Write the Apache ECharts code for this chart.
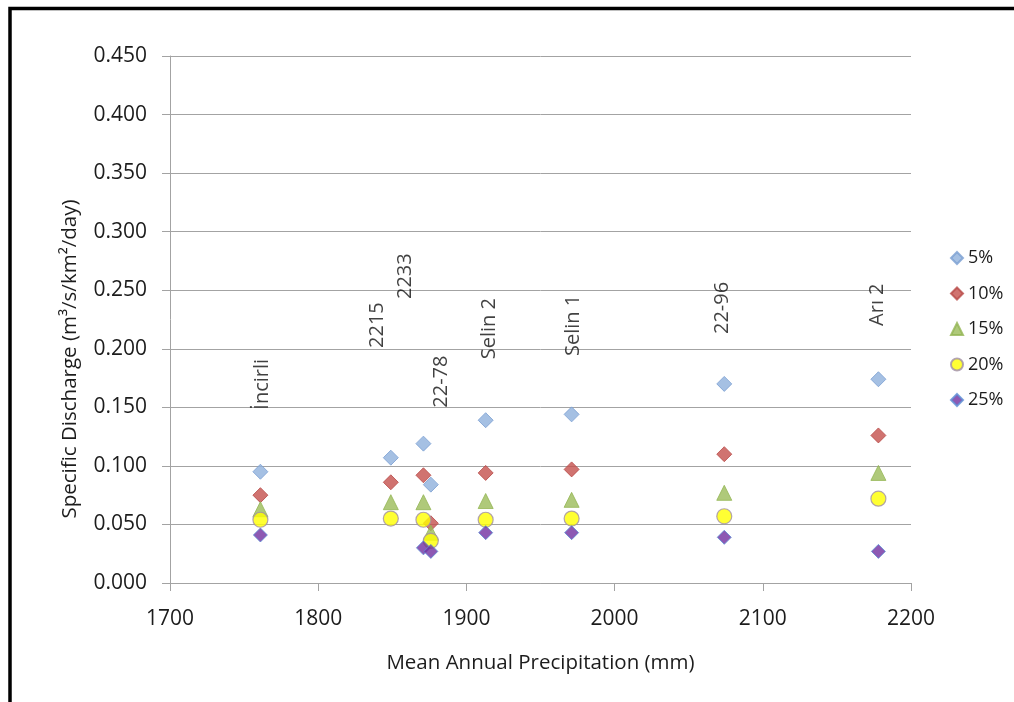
<!DOCTYPE html>
<html>
<head>
<meta charset="utf-8">
<script src="https://cdn.jsdelivr.net/npm/echarts@6/dist/echarts.min.js"></script>
<style>
  html, body { margin: 0; padding: 0; background: #fff; }
  #chart { width: 1014px; height: 702px; }
</style>
</head>
<body>
<div id="chart"></div>
<script>
// Mean annual precipitation (mm) of each gauging station
const stations = ['İncirli', '2215', '2233', '22-78', 'Selin 2', 'Selin 1', '22-96', 'Arı 2'];
const precipitation = [1761, 1849, 1871, 1876, 1913, 1971, 2074, 2178];

// Specific discharge (m³/s/km²/day) for each exceedance percentage
const q5  = [0.095, 0.107, 0.119, 0.084, 0.139, 0.144, 0.170, 0.174];
const q10 = [0.075, 0.086, 0.092, 0.051, 0.094, 0.097, 0.110, 0.126];
const q15 = [0.063, 0.069, 0.069, 0.043, 0.070, 0.071, 0.077, 0.094];
const q20 = [0.054, 0.055, 0.054, 0.036, 0.054, 0.055, 0.057, 0.072];
const q25 = [0.041, null,  0.030, 0.027, 0.043, 0.043, 0.039, 0.027];

// Anchor of each station's vertical name tag (mm, discharge)
const tagX = [1762, 1840, 1859, 1883, 1915.5, 1972, 2073, 2177];
const tagY = [0.148, 0.2007, 0.2425, 0.1497, 0.191, 0.1938, 0.2126, 0.2195];

const seriesNames = ['5%', '10%', '15%', '20%', '25%'];

const FONT = 'Open Sans';
const TEXT = '#1c1c1c';
const GRID = '#a3a3a3';

function pairs(xs, ys) {
  const out = [];
  for (let i = 0; i < xs.length; i++) {
    if (ys[i] !== null) out.push([xs[i], ys[i]]);
  }
  return out;
}

const chart = echarts.init(document.getElementById('chart'), null, { renderer: 'canvas' });

const option = {
  backgroundColor: '#ffffff',
  animation: false,
  textStyle: { fontFamily: FONT, color: TEXT },
  grid: { left: 170, right: 103, top: 56, bottom: 119, containLabel: false },
  xAxis: {
    type: 'value',
    min: 1700,
    max: 2200,
    interval: 100,
    name: 'Mean Annual Precipitation (mm)',
    nameLocation: 'middle',
    nameGap: 70,
    nameTextStyle: { fontFamily: FONT, fontSize: 20.5, color: TEXT },
    axisLine: { show: true, onZero: false, lineStyle: { color: GRID, width: 1 } },
    axisTick: { show: true, inside: false, length: 8, lineStyle: { color: GRID } },
    axisLabel: {
      margin: 26, fontFamily: FONT, fontSize: 21, color: TEXT,
      formatter: v => String(v)
    },
    splitLine: { show: false }
  },
  yAxis: {
    type: 'value',
    min: 0,
    max: 0.45,
    interval: 0.05,
    axisLine: { show: true, lineStyle: { color: GRID, width: 1 } },
    axisTick: { show: true, inside: false, length: 8, lineStyle: { color: GRID } },
    axisLabel: {
      margin: 23, fontFamily: FONT, fontSize: 21, color: TEXT,
      formatter: v => v.toFixed(3)
    },
    splitLine: { show: true, lineStyle: { color: GRID, width: 1 } }
  },
  legend: {
    orient: 'vertical',
    left: 945,
    top: 244,
    itemWidth: 12,
    itemHeight: 12,
    itemGap: 17.5,
    data: seriesNames,
    textStyle: { fontFamily: FONT, fontSize: 18, color: TEXT }
  },
  graphic: [
    {
      type: 'text',
      x: 70,
      y: 359,
      rotation: Math.PI / 2,
      style: {
        text: 'Specific Discharge (m³/s/km²/day)',
        fontFamily: FONT,
        fontSize: 20.5,
        fill: TEXT,
        align: 'center',
        verticalAlign: 'middle'
      }
    },
    {
      type: 'rect',
      shape: { x: 10, y: 8.5, width: 1200, height: 900 },
      style: { fill: null, stroke: '#000000', lineWidth: 3.5 },
      silent: true
    }
  ],
  series: [
    {
      name: '5%', type: 'scatter', symbol: 'diamond', symbolSize: 15,
      itemStyle: { color: '#8eb0dc', borderColor: '#7a9fd2', borderWidth: 1 },
      data: pairs(precipitation, q5)
    },
    {
      name: '10%', type: 'scatter', symbol: 'diamond', symbolSize: 15,
      itemStyle: { color: '#c4504c', borderColor: '#b84a47', borderWidth: 1 },
      data: pairs(precipitation, q10)
    },
    {
      name: '15%', type: 'scatter', symbol: 'triangle', symbolSize: 15,
      itemStyle: { color: '#9bbb59', borderColor: '#94b554', borderWidth: 1 },
      data: pairs(precipitation, q15)
    },
    {
      name: '20%', type: 'scatter', symbol: 'circle', symbolSize: 15,
      itemStyle: { color: '#ffff00', borderColor: '#a08ea8', borderWidth: 1.2 },
      data: pairs(precipitation, q20)
    },
    {
      name: '25%', type: 'scatter', symbol: 'diamond', symbolSize: 14,
      itemStyle: { color: '#7030a0', borderColor: '#5b8fd4', borderWidth: 1 },
      data: pairs(precipitation, q25)
    },
    {
      name: 'stations', type: 'scatter', symbol: 'circle', symbolSize: 0,
      silent: true,
      label: {
        show: true,
        position: 'inside',
        rotate: 90,
        align: 'left',
        verticalAlign: 'middle',
        fontFamily: FONT,
        fontSize: 20,
        color: '#111111',
        formatter: p => p.name
      },
      data: stations.map((s, i) => ({ name: s, value: [tagX[i], tagY[i]] }))
    }
  ]
};

chart.setOption(option);
</script>
</body>
</html>
